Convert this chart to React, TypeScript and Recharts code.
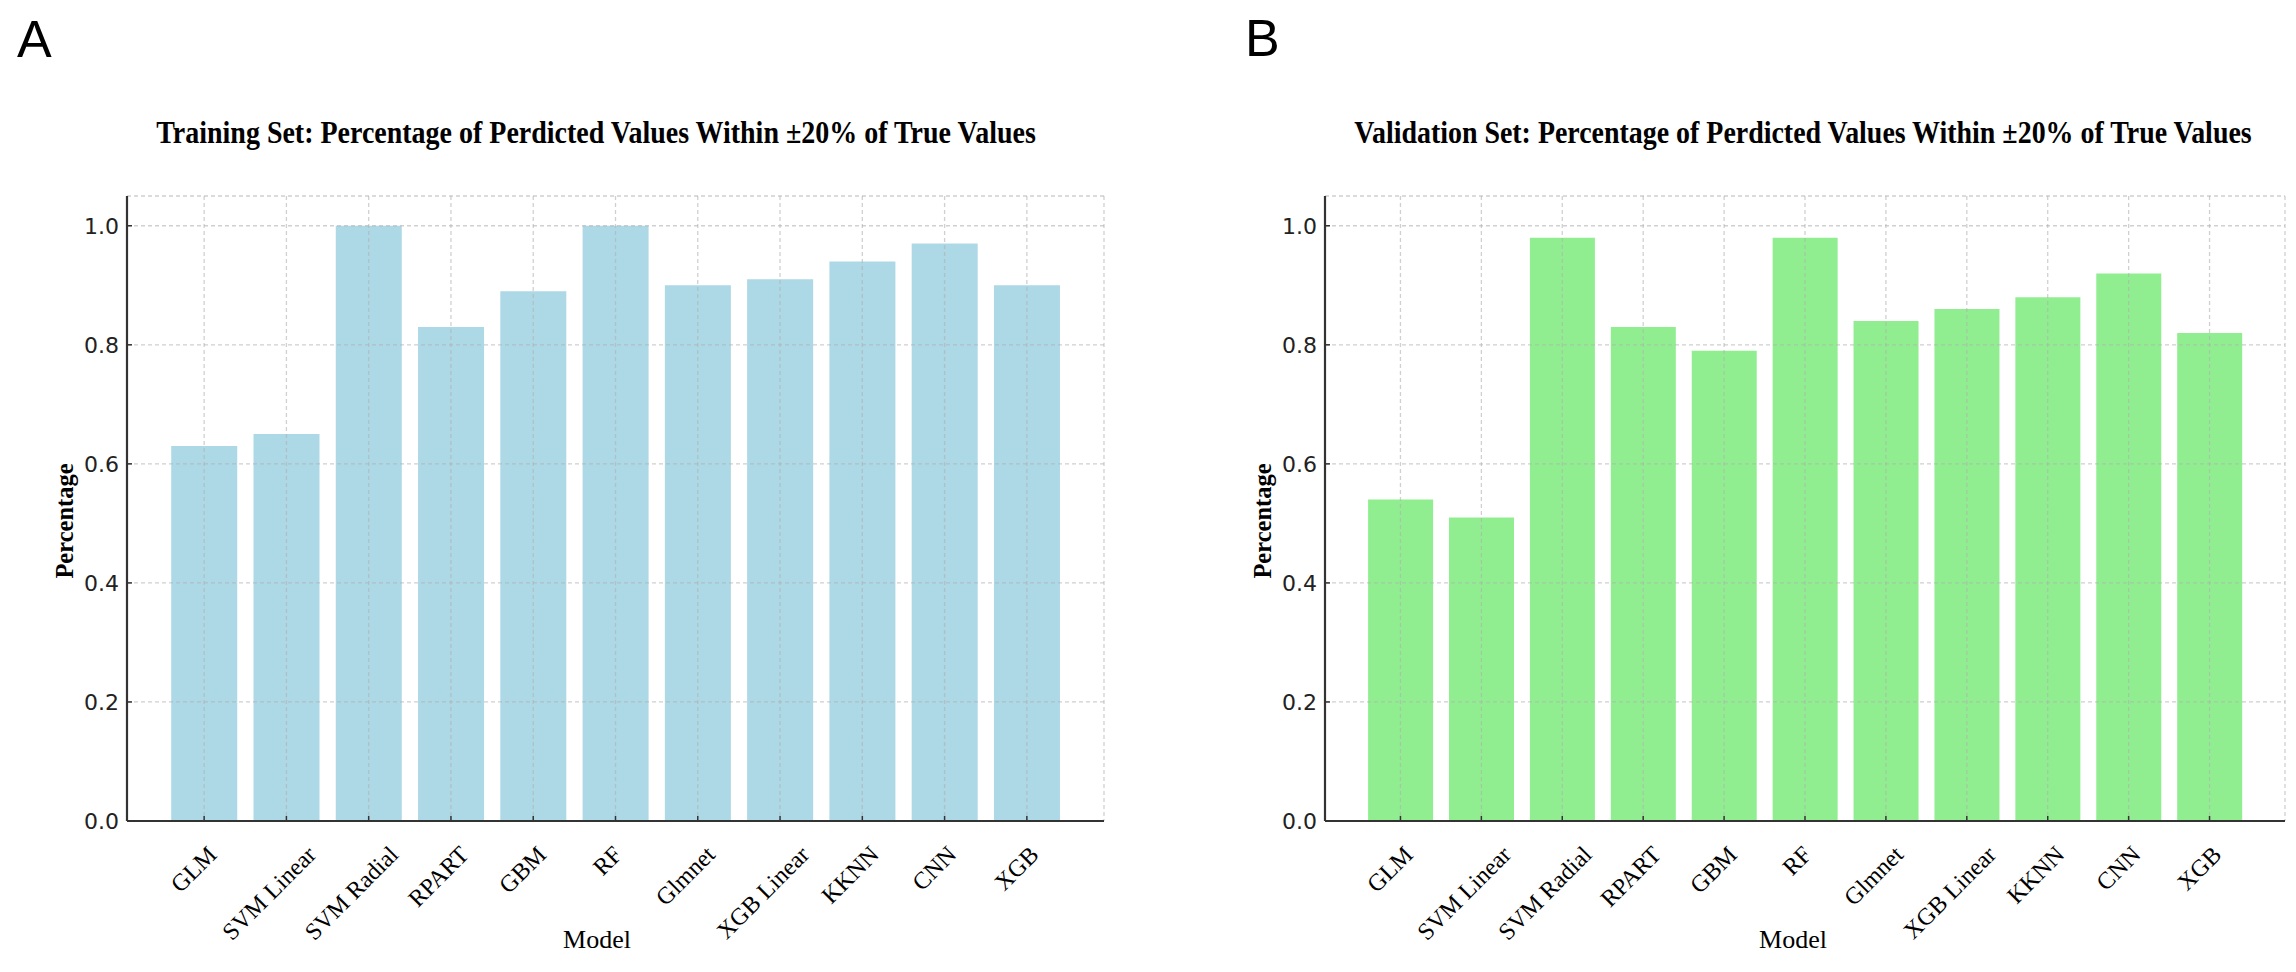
import React from 'react';
import { BarChart, Bar, XAxis, YAxis, CartesianGrid } from 'recharts';

// models on the x axis, same order in both panels
const models = ['GLM', 'SVM Linear', 'SVM Radial', 'RPART', 'GBM', 'RF', 'Glmnet', 'XGB Linear', 'KKNN', 'CNN', 'XGB'];
const trainingPct = [0.63, 0.65, 1.0, 0.83, 0.89, 1.0, 0.9, 0.91, 0.94, 0.97, 0.9];
const validationPct = [0.54, 0.51, 0.98, 0.83, 0.79, 0.98, 0.84, 0.86, 0.88, 0.92, 0.82];
const yTicks = [0, 0.2, 0.4, 0.6, 0.8, 1.0];

const trainingTitle = 'Training Set: Percentage of Perdicted Values Within ±20% of True Values';
const validationTitle = 'Validation Set: Percentage of Perdicted Values Within ±20% of True Values';

const SERIF = '"Liberation Serif", "Times New Roman", serif';
const SANS = '"Liberation Sans", Arial, sans-serif';

let measureCtx: CanvasRenderingContext2D | null = null;
function textWidth(s: string, font: string) {
  if (!measureCtx) measureCtx = document.createElement('canvas').getContext('2d');
  if (!measureCtx) return s.length * 11;
  measureCtx.font = font;
  return measureCtx.measureText(s).width;
}

// rotated category label, its box hangs just under the axis
const ModelTick = (props: any) => {
  const { x, y, payload } = props;
  const label = String(payload.value);
  const L = textWidth(label, '24px "Liberation Serif"');
  const cx = x - 5 - 0.1 * L;
  const cy = y + 24 + 0.3536 * (L + 16);
  return (
    <g transform={`translate(${cx}, ${cy}) rotate(-45)`}>
      <text x={0} y={0} dy="0.32em" textAnchor="middle" fontFamily={SERIF} fontSize={24} fill="#000">
        {label}
      </text>
    </g>
  );
};

// condensed bold title, squeezed horizontally to the measured width
const Title = ({ text, cx, width }: { text: string; cx: number; width: number }) => {
  const natural = textWidth(text, 'bold 32px "Liberation Serif"') || width;
  const sx = width / natural;
  return (
    <g transform={`translate(${cx}, 143) scale(${sx}, 1)`}>
      <text x={0} y={0} textAnchor="middle" fontFamily={SERIF} fontWeight="bold" fontSize={32} fill="#000">
        {text}
      </text>
    </g>
  );
};

interface PanelProps {
  values: number[];
  color: string;
  left: number;
  marginLeft: number;
  marginRight: number;
  pad: number;
}

function Panel({ values, color, left, marginLeft, marginRight, pad }: PanelProps) {
  const data = models.map((m, i) => ({ model: m, pct: values[i] }));
  return (
    <div style={{ position: 'absolute', left, top: 0 }}>
      <BarChart
        width={1148}
        height={972}
        data={data}
        margin={{ top: 196, right: marginRight, bottom: 21, left: marginLeft }}
        barCategoryGap="10%"
      >
        <Bar dataKey="pct" fill={color} isAnimationActive={false} />
        <CartesianGrid
          stroke="#b0b0b0"
          strokeOpacity={0.6}
          strokeWidth={1.3}
          strokeDasharray="4 3"
          zIndex={400}
        />
        <XAxis
          dataKey="model"
          interval={0}
          height={130}
          padding={{ left: pad, right: pad }}
          axisLine={{ stroke: '#333', strokeWidth: 2.2 }}
          tickLine={{ stroke: '#333', strokeWidth: 1.5 }}
          tickSize={-5}
          tickMargin={5}
          tick={<ModelTick />}
        />
        <YAxis
          type="number"
          domain={[0, 1.05]}
          ticks={yTicks}
          width={60}
          tickFormatter={(v: number) => v.toFixed(1)}
          axisLine={{ stroke: '#333', strokeWidth: 2.2 }}
          tickLine={{ stroke: '#333', strokeWidth: 1.5 }}
          tickSize={-5}
          tickMargin={13}
          tick={{ fontFamily: '"DejaVu Sans", sans-serif', fontSize: 22, fill: '#222' }}
        />
      </BarChart>
    </div>
  );
}

export default function App() {
  return (
    <div style={{ position: 'absolute', left: 0, top: 0, width: 2296, height: 972, background: '#fff' }}>
      <Panel values={trainingPct} color="#ADD8E6" left={0} marginLeft={67} marginRight={44} pad={36} />
      <Panel values={validationPct} color="#90EE90" left={1148} marginLeft={117} marginRight={11} pad={35} />
      <svg
        width={2296}
        height={972}
        style={{ position: 'absolute', left: 0, top: 0, pointerEvents: 'none' }}
      >
        <text x={17} y={57} fontFamily={SANS} fontSize={52} fill="#000">A</text>
        <text x={1245} y={56} fontFamily={SANS} fontSize={52} fill="#000">B</text>

        <Title text={trainingTitle} cx={596} width={882} />
        <Title text={validationTitle} cx={1803} width={900} />

        <text x={73} y={521} textAnchor="middle" transform="rotate(-90, 73, 521)" fontFamily={SERIF}
          fontWeight="bold" fontSize={24.5} fill="#000">Percentage</text>
        <text x={1271} y={521} textAnchor="middle" transform="rotate(-90, 1271, 521)" fontFamily={SERIF}
          fontWeight="bold" fontSize={24.5} fill="#000">Percentage</text>

        <text x={597} y={948} textAnchor="middle" fontFamily={SERIF} fontSize={26} fill="#000">Model</text>
        <text x={1793} y={948} textAnchor="middle" fontFamily={SERIF} fontSize={26} fill="#000">Model</text>
      </svg>
    </div>
  );
}
